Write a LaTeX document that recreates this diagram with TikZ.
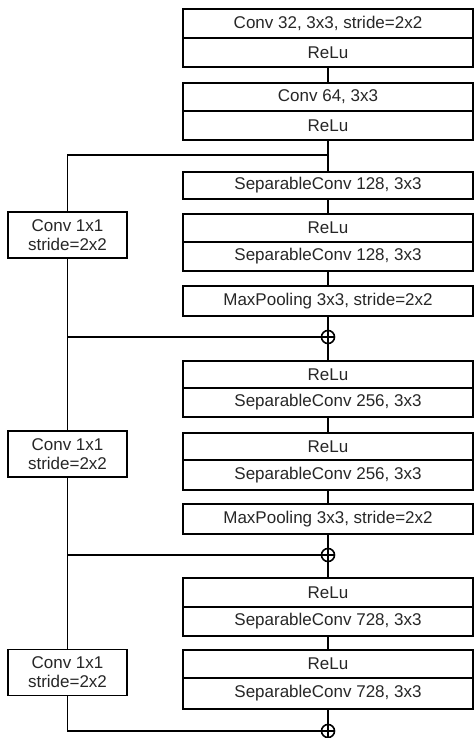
\documentclass[tikz,border=0pt]{standalone}
\usepackage{fontspec}
\setmainfont{Liberation Sans}
\begin{document}
\begin{tikzpicture}[x=1pt,y=-1pt,
  every node/.style={font=\fontsize{17}{20}\selectfont, text=black!85},
  layer/.style={draw, line width=1.8pt, rectangle, inner sep=0pt, minimum width=290pt},
  side/.style={draw, line width=1.8pt, rectangle, inner sep=0pt, minimum width=119pt, minimum height=46pt, align=center, font=\fontsize{17}{19}\selectfont},
  addop/.style={draw, line width=1.6pt, circle, inner sep=0pt, minimum size=13pt,
    path picture={\draw[line width=1.2pt] (path picture bounding box.north) -- (path picture bounding box.south)
      (path picture bounding box.west) -- (path picture bounding box.east);}},
  conn/.style={line width=1.8pt}]
\useasboundingbox (0,0) rectangle (474,738);
% trunk boxes
\node[layer, minimum height=29pt] (r1) at (328,23.5) {Conv 32, 3x3, stride=2x2};
\node[layer, minimum height=29pt] (r2) at (328,52.5) {ReLu};
\node[layer, minimum height=28pt] (r3) at (328,97) {Conv 64, 3x3};
\node[layer, minimum height=29pt] (r4) at (328,125.5) {ReLu};
\node[layer, minimum height=27pt] (r5) at (328,185.5) {SeparableConv 128, 3x3};
\node[layer, minimum height=28pt] (r6) at (328,228) {ReLu};
\node[layer, minimum height=29pt] (r7) at (328,256.5) {SeparableConv 128, 3x3};
\node[layer, minimum height=30pt] (r8) at (328,301) {MaxPooling 3x3, stride=2x2};
\node[addop] (c1) at (328,337) {};
\node[layer, minimum height=27pt] (r9) at (328,374.5) {ReLu};
\node[layer, minimum height=29pt] (r10) at (328,402.5) {SeparableConv 256, 3x3};
\node[layer, minimum height=27pt] (r11) at (328,446.5) {ReLu};
\node[layer, minimum height=30pt] (r12) at (328,475) {SeparableConv 256, 3x3};
\node[layer, minimum height=30pt] (r13) at (328,519) {MaxPooling 3x3, stride=2x2};
\node[addop] (c2) at (328,555) {};
\node[layer, minimum height=29pt] (r14) at (328,592.5) {ReLu};
\node[layer, minimum height=29pt] (r15) at (328,621.5) {SeparableConv 728, 3x3};
\node[layer, minimum height=28pt] (r16) at (328,664) {ReLu};
\node[layer, minimum height=31pt] (r17) at (328,693.5) {SeparableConv 728, 3x3};
\node[addop] (c3) at (328,731) {};
% side boxes
\node[side] (l1) at (67.5,235) {Conv 1x1\\stride=2x2};
\node[side] (l2) at (67.5,454) {Conv 1x1\\stride=2x2};
\node[side] (l3) at (67.5,672.5) {Conv 1x1\\stride=2x2};
% junctions
\coordinate (b1) at (328,155);
\coordinate (j1) at (67.5,337);
\coordinate (j2) at (67.5,555);
% trunk connectors
\draw[conn] (r2.south) -- (r3.north);
\draw[conn] (r4.south) -- (r5.north);
\draw[conn] (r5.south) -- (r6.north);
\draw[conn] (r7.south) -- (r8.north);
\draw[conn] (r8.south) -- (c1.north);
\draw[conn] (c1.south) -- (r9.north);
\draw[conn] (r10.south) -- (r11.north);
\draw[conn] (r12.south) -- (r13.north);
\draw[conn] (r13.south) -- (c2.north);
\draw[conn] (c2.south) -- (r14.north);
\draw[conn] (r15.south) -- (r16.north);
\draw[conn] (r17.south) -- (c3.north);
% skip connections
\draw[conn] (b1) -| (l1.north);
\draw[conn] (l1.south) -- (j1) -- (c1.west);
\draw[conn] (j1) -- (l2.north);
\draw[conn] (l2.south) -- (j2) -- (c2.west);
\draw[conn] (j2) -- (l3.north);
\draw[conn] (l3.south) |- (c3.west);
\end{tikzpicture}
\end{document}
